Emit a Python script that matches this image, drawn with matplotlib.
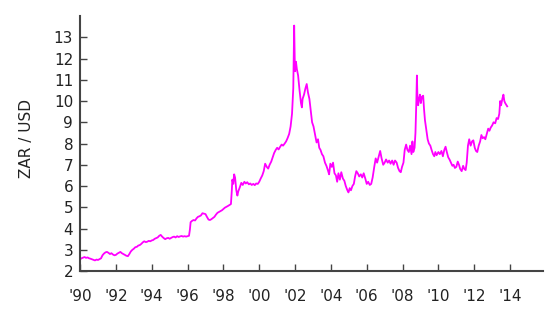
import matplotlib
matplotlib.use('Agg')
import matplotlib.pyplot as plt

# year (decimal) and ZAR per USD
years = [
    1990.00, 1990.08, 1990.17, 1990.25, 1990.33, 1990.42, 1990.50, 1990.58, 1990.67, 1990.75, 1990.83, 1990.92,
    1991.00, 1991.08, 1991.17, 1991.25, 1991.33, 1991.42, 1991.50, 1991.58, 1991.67, 1991.75, 1991.83, 1991.92,
    1992.00, 1992.08, 1992.17, 1992.25, 1992.33, 1992.42, 1992.50, 1992.58, 1992.67, 1992.75, 1992.83, 1992.92,
    1993.00, 1993.08, 1993.17, 1993.25, 1993.33, 1993.42, 1993.50, 1993.58, 1993.67, 1993.75, 1993.83, 1993.92,
    1994.00, 1994.08, 1994.17, 1994.25, 1994.33, 1994.42, 1994.50, 1994.58, 1994.67, 1994.75, 1994.83, 1994.92,
    1995.00, 1995.08, 1995.17, 1995.25, 1995.33, 1995.42, 1995.50, 1995.58, 1995.67, 1995.75, 1995.83, 1995.92,
    1996.00, 1996.08, 1996.13, 1996.17, 1996.25, 1996.33, 1996.42, 1996.50, 1996.58, 1996.67, 1996.75, 1996.83, 1996.92,
    1997.00, 1997.08, 1997.17, 1997.25, 1997.33, 1997.42, 1997.50, 1997.58, 1997.67, 1997.75, 1997.83, 1997.92,
    1998.00, 1998.08, 1998.17, 1998.25, 1998.33, 1998.42, 1998.47, 1998.50, 1998.55, 1998.60, 1998.65, 1998.72,
    1998.78, 1998.83, 1998.92,
    1999.00, 1999.08, 1999.17, 1999.25, 1999.33, 1999.42, 1999.50, 1999.58, 1999.67, 1999.75, 1999.83, 1999.92,
    2000.00, 2000.08, 2000.17, 2000.25, 2000.33, 2000.42, 2000.50, 2000.58, 2000.67, 2000.75, 2000.83, 2000.92,
    2001.00, 2001.08, 2001.17, 2001.25, 2001.33, 2001.42, 2001.50, 2001.58, 2001.67, 2001.75, 2001.83, 2001.90,
    2001.95, 2001.98,
    2002.00, 2002.05, 2002.10, 2002.17, 2002.25, 2002.33, 2002.38, 2002.42, 2002.50, 2002.58, 2002.65, 2002.72,
    2002.80, 2002.88, 2002.95,
    2003.03, 2003.12, 2003.20, 2003.28, 2003.35, 2003.42, 2003.50, 2003.58, 2003.67, 2003.75, 2003.83, 2003.90,
    2003.97,
    2004.05, 2004.12, 2004.20, 2004.28, 2004.35, 2004.42, 2004.50, 2004.58, 2004.67, 2004.75, 2004.83, 2004.92,
    2004.98,
    2005.05, 2005.12, 2005.20, 2005.28, 2005.35, 2005.42, 2005.50, 2005.58, 2005.67, 2005.75, 2005.83, 2005.92,
    2006.00, 2006.08, 2006.17, 2006.25, 2006.33, 2006.42, 2006.50, 2006.58, 2006.67, 2006.75, 2006.83, 2006.92,
    2007.00, 2007.08, 2007.17, 2007.25, 2007.33, 2007.42, 2007.50, 2007.58, 2007.67, 2007.75, 2007.83, 2007.90,
    2007.97,
    2008.05, 2008.12, 2008.20, 2008.27, 2008.35, 2008.42, 2008.50, 2008.55, 2008.60, 2008.67, 2008.72, 2008.77,
    2008.80, 2008.83, 2008.87, 2008.92, 2008.97,
    2009.02, 2009.08, 2009.15, 2009.20, 2009.25, 2009.33, 2009.40, 2009.47, 2009.55, 2009.62, 2009.70, 2009.77,
    2009.83, 2009.90,
    2010.00, 2010.08, 2010.17, 2010.25, 2010.33, 2010.40, 2010.47, 2010.55, 2010.62, 2010.70, 2010.78, 2010.85,
    2010.92,
    2011.00, 2011.08, 2011.15, 2011.22, 2011.30, 2011.38, 2011.45, 2011.52, 2011.58, 2011.65, 2011.72, 2011.80,
    2011.88, 2011.95,
    2012.03, 2012.10, 2012.17, 2012.25, 2012.33, 2012.40, 2012.47, 2012.55, 2012.62, 2012.70, 2012.78, 2012.85,
    2012.92,
    2013.00, 2013.08, 2013.17, 2013.25, 2013.33, 2013.40, 2013.45, 2013.50, 2013.57, 2013.63, 2013.68, 2013.73,
    2013.80, 2013.84,
]
zar_usd = [
    2.55, 2.60, 2.63, 2.66, 2.62, 2.64, 2.60, 2.58, 2.55, 2.52, 2.50, 2.54,
    2.52, 2.56, 2.60, 2.74, 2.82, 2.88, 2.90, 2.86, 2.80, 2.84, 2.78, 2.74,
    2.76, 2.82, 2.86, 2.90, 2.84, 2.80, 2.76, 2.72, 2.70, 2.80, 2.92, 3.00,
    3.05, 3.12, 3.14, 3.20, 3.22, 3.28, 3.35, 3.40, 3.36, 3.38, 3.42, 3.40,
    3.44, 3.46, 3.52, 3.55, 3.58, 3.66, 3.70, 3.62, 3.55, 3.50, 3.54, 3.56,
    3.52, 3.56, 3.60, 3.62, 3.58, 3.64, 3.60, 3.63, 3.65, 3.62, 3.64, 3.62,
    3.64, 3.66, 3.95, 4.30, 4.36, 4.40, 4.38, 4.48, 4.55, 4.58, 4.62, 4.72, 4.70,
    4.68, 4.55, 4.42, 4.40, 4.44, 4.50, 4.55, 4.65, 4.74, 4.78, 4.82, 4.86,
    4.92, 4.98, 5.02, 5.06, 5.10, 5.15, 5.80, 6.30, 6.10, 6.55, 6.40, 5.80,
    5.55, 5.75, 5.95,
    6.15, 6.05, 6.20, 6.12, 6.18, 6.08, 6.12, 6.05, 6.10, 6.04, 6.12, 6.10,
    6.20, 6.35, 6.50, 6.70, 7.05, 6.90, 6.82, 7.00, 7.15, 7.35, 7.55, 7.70,
    7.80, 7.72, 7.85, 7.95, 7.90, 8.00, 8.10, 8.25, 8.45, 8.80, 9.40, 10.60,
    13.55, 12.00,
    11.40, 11.85, 11.50, 11.20, 10.50, 9.90, 9.70, 10.10, 10.30, 10.60, 10.80, 10.40,
    10.10, 9.50, 9.00,
    8.80, 8.40, 8.05, 8.20, 7.80, 7.70, 7.50, 7.40, 7.10, 6.95, 6.75, 6.55,
    7.05,
    6.90, 7.10, 6.60, 6.50, 6.20, 6.60, 6.30, 6.65, 6.35, 6.25, 6.00, 5.80,
    5.70,
    5.90, 5.80, 6.00, 6.10, 6.45, 6.70, 6.60, 6.45, 6.55, 6.40, 6.60, 6.35,
    6.10, 6.20, 6.05, 6.10, 6.40, 6.90, 7.30, 7.10, 7.40, 7.65, 7.30, 7.00,
    7.10, 7.25, 7.10, 7.20, 7.05, 7.20, 7.00, 7.20, 7.10, 6.85, 6.70, 6.65,
    6.90,
    7.10, 7.70, 7.95, 7.70, 7.60, 7.90, 7.50, 8.10, 7.60, 7.80, 8.50, 10.00,
    11.20, 10.20, 9.80, 10.10, 10.30,
    9.90, 10.20, 10.25, 9.60, 9.10, 8.60, 8.20, 8.00, 7.90, 7.70, 7.50, 7.40,
    7.60, 7.45,
    7.60, 7.50, 7.65, 7.40, 7.70, 7.85, 7.60, 7.35, 7.25, 7.10, 6.95, 7.00,
    6.85,
    6.90, 7.15, 7.00, 6.80, 6.70, 6.95, 6.80, 6.75, 7.10, 7.90, 8.20, 7.90,
    8.10, 8.15,
    7.80, 7.65, 7.60, 7.90, 8.10, 8.40, 8.25, 8.30, 8.20, 8.45, 8.70, 8.60,
    8.75,
    8.85, 9.00, 8.95, 9.20, 9.15, 9.40, 10.00, 9.80, 10.10, 10.30, 10.00, 9.90,
    9.80, 9.75,
]

tick_years = list(range(1990, 2015, 2))
tick_labels = ["'%02d" % (y % 100) for y in tick_years]
y_ticks = list(range(2, 14))

fig = plt.figure(figsize=(5.6, 3.2), dpi=100)
ax = fig.add_axes([0.143, 0.153, 0.827, 0.797])

ax.plot(years, zar_usd, color='#ff00ff', lw=1.3)

ax.set_xlim(1990, 2015.85)
ax.set_ylim(2, 14)
ax.set_xticks(tick_years)
ax.set_xticklabels(tick_labels)
ax.set_yticks(y_ticks)

for side in ('top', 'right'):
    ax.spines[side].set_visible(False)
for side in ('left', 'bottom'):
    ax.spines[side].set_color('#444444')
    ax.spines[side].set_linewidth(1.5)

ax.tick_params(axis='both', direction='in', length=5, width=1, color='#444444',
               labelsize=11, labelcolor='#222222')
ax.tick_params(axis='x', pad=13)
ax.tick_params(axis='y', pad=5)

ax.set_ylabel('ZAR / USD', fontsize=11, color='#222222')
ax.yaxis.set_label_coords(-0.1, 0.52)

fig.savefig('out.png', dpi=100)
